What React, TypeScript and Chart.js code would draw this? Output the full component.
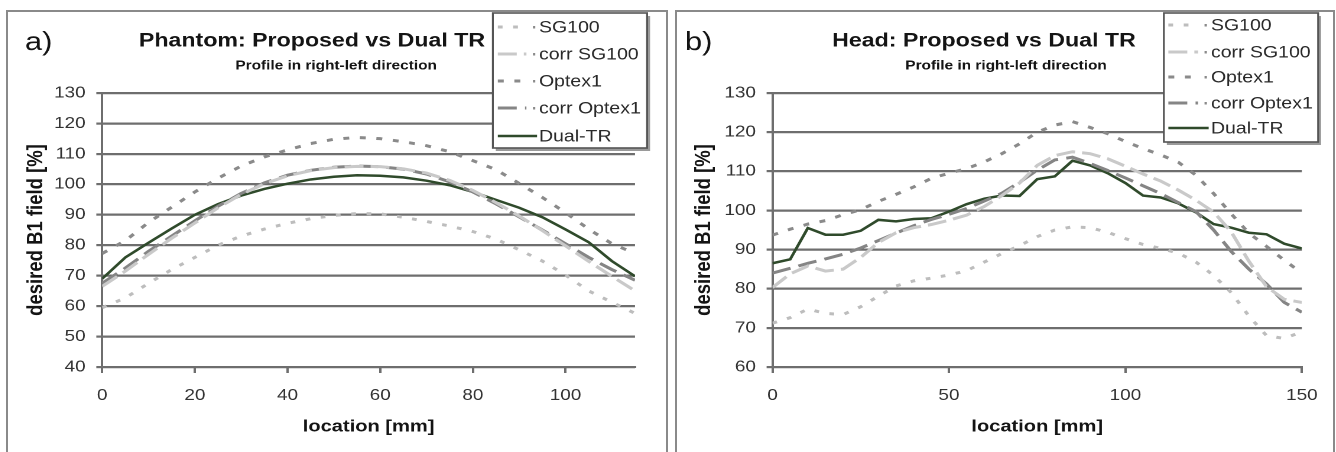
import React, { useEffect, useRef } from 'react';
import { Chart, registerables } from 'chart.js';

Chart.register(...registerables);

// ---------------- data ----------------
const seriesLabels = ['SG100', 'corr SG100', 'Optex1', 'corr Optex1', 'Dual-TR'];

const phantomLocations = [0, 5, 10, 15, 20, 25, 30, 35, 40, 45, 50, 55, 60, 65, 70, 75, 80, 85, 90, 95, 100, 105, 110, 115];
const phantomSG100 = [59.5, 62.7, 67.5, 72, 76, 80, 83, 85.3, 87.2, 88.7, 89.8, 90.4, 90.3, 89.2, 87.8, 86.3, 84.5, 82, 78.5, 74.8, 70.2, 65, 61.3, 57.6];
const phantomCorrSG100 = [66.5, 71.5, 77, 82.3, 87.3, 92.3, 96.7, 100.2, 102.8, 104.5, 105.5, 105.9, 105.8, 105.1, 103.7, 101.3, 98, 94, 89.6, 84.8, 79.8, 74.7, 69.8, 65];
const phantomOptex1 = [77.3, 81.5, 87.5, 92.5, 97.5, 102, 106, 109, 111.3, 113.4, 114.8, 115.4, 115, 114, 112.7, 110.7, 107.8, 104.8, 100.3, 95.7, 90.7, 85.3, 80.5, 77.3];
const phantomCorrOptex1 = [67.5, 72.5, 78, 83, 88, 92.8, 97, 100.5, 103, 104.6, 105.6, 106, 105.8, 105, 103.4, 100.8, 97.5, 93.6, 89.3, 85, 80.5, 76, 72, 68.5];
const phantomDualTR = [69, 76, 80.8, 85.5, 90, 93.5, 96.3, 98.5, 100.2, 101.6, 102.5, 103, 102.8, 102.3, 101.2, 99.7, 97.5, 94.9, 92.3, 89.2, 85.2, 81, 74.8, 69.8];
const phantomXTicks = [0, 20, 40, 60, 80, 100];
const phantomYTicks = [40, 50, 60, 70, 80, 90, 100, 110, 120, 130];

const headLocations = [0, 5, 10, 15, 20, 25, 30, 35, 40, 45, 50, 55, 60, 65, 70, 75, 80, 85, 90, 95, 100, 105, 110, 115, 120, 125, 130, 135, 140, 145, 150];
const headSG100 = [71.2, 72.6, 74.8, 73.7, 73.4, 75.4, 78.1, 80.7, 82, 82.7, 83.5, 84.6, 86.8, 89, 91, 93.3, 95, 95.8, 95.6, 94.4, 92.8, 91.3, 90.3, 89.1, 86.8, 83.4, 79, 73, 68, 67.3, 69];
const headCorrSG100 = [80.3, 83.8, 85.8, 84.5, 85, 88, 91.8, 94.3, 95.6, 96.4, 97.5, 98.8, 101, 103.8, 107, 111.5, 114, 115, 114.5, 113.2, 111.3, 109.3, 107.5, 105.2, 102.6, 99.6, 94.5, 87, 80.5, 77.3, 76.5];
const headOptex1 = [93.7, 95.2, 96.5, 97.4, 98.9, 100.2, 102.3, 104.1, 106, 108.2, 109.5, 110.7, 112.4, 114.5, 117, 120, 121.8, 122.7, 121.2, 119.6, 117.6, 115.8, 114.2, 112.3, 109, 104.3, 99.1, 94.2, 90.8, 87.3, 84];
const headCorrOptex1 = [84, 85.2, 86.5, 87.6, 88.8, 90.4, 92.3, 94.2, 96.1, 97.7, 99, 100.5, 102.4, 104.4, 107.2, 110.3, 112.9, 113.6, 112, 110.2, 108.3, 106.3, 104.3, 102, 99.7, 95, 89.5, 85, 81.2, 76.5, 74];
const headDualTR = [86.5, 87.5, 95.5, 93.8, 93.8, 94.8, 97.6, 97.2, 97.8, 98, 99.7, 101.6, 103, 103.8, 103.7, 108, 108.7, 112.7, 111.5, 109.5, 107, 103.8, 103.3, 101.8, 99.5, 96.5, 95.6, 94.3, 93.9, 91.5, 90.3];
const headXTicks = [0, 50, 100, 150];
const headYTicks = [60, 70, 80, 90, 100, 110, 120, 130];

// ---------------- styles / layout ----------------
const FONT = '"Liberation Sans", Arial, sans-serif';
const STRETCH = 1.18;
const PHYS_W = 656;
const LOG_W = PHYS_W / STRETCH;
const H = 440;
const GRID = '#6e6e6e';
const TEXT = '#141414';

const seriesStyles = [
  { color: '#bdbdbd', dash: [4, 9], width: 3 },
  { color: '#c9c9c9', dash: [16, 6], width: 3 },
  { color: '#8a8a8a', dash: [5, 9], width: 3 },
  { color: '#858585', dash: [16, 7], width: 3 },
  { color: '#2f4a2b', dash: [] as number[], width: 2.5 },
];

interface PanelDef {
  letter: string;
  title: string;
  subtitle: string;
  locations: number[];
  series: number[][];
  xMax: number;
  xTicks: number[];
  yTicks: number[];
  plot: { left: number; right: number; top: number; bottom: number };
  letterX: number;
  titleX: number;
  subtitleX: number;
  yTitleX: number;
  legend: { x: number; y: number; w: number; h: number; rows: number[]; sx0: number; sx1: number; tx: number };
  physLeft: number;
}

const phantomPanel: PanelDef = {
  letter: 'a)',
  title: 'Phantom: Proposed vs Dual TR',
  subtitle: 'Profile in right-left direction',
  locations: phantomLocations,
  series: [phantomSG100, phantomCorrSG100, phantomOptex1, phantomCorrOptex1, phantomDualTR],
  xMax: 115,
  xTicks: phantomXTicks,
  yTicks: phantomYTicks,
  plot: { left: 79.7, right: 531.4, top: 81, bottom: 355 },
  letterX: 14.4,
  titleX: 257.2,
  subtitleX: 277.6,
  yTitleX: 23.7,
  legend: { x: 410.2, y: 1, w: 130.5, h: 135, rows: [15, 42, 69, 96, 124], sx0: 414.4, sx1: 446.6, tx: 449.2 },
  physLeft: 8,
};

const headPanel: PanelDef = {
  letter: 'b)',
  title: 'Head: Proposed vs Dual TR',
  subtitle: 'Profile in right-left direction',
  locations: headLocations,
  series: [headSG100, headCorrSG100, headOptex1, headCorrOptex1, headDualTR],
  xMax: 150,
  xTicks: headXTicks,
  yTicks: headYTicks,
  plot: { left: 80.8, right: 533.9, top: 81, bottom: 355 },
  letterX: 6.8,
  titleX: 259.7,
  subtitleX: 278.4,
  yTitleX: 22.9,
  legend: { x: 411.9, y: 1, w: 130.5, h: 129, rows: [13, 40, 65, 91, 116], sx0: 415.7, sx1: 448.8, tx: 451.7 },
  physLeft: 677,
};

const overlayPlugin = {
  id: 'overlay',
  afterDraw(chart: any, _args: any, opts: any) {
    const p: PanelDef = opts.panel;
    if (!p) return;
    const ctx: CanvasRenderingContext2D = chart.ctx;
    const area = chart.chartArea;
    ctx.save();
    ctx.fillStyle = TEXT;
    ctx.textBaseline = 'middle';

    ctx.textAlign = 'left';
    ctx.font = `26px ${FONT}`;
    ctx.fillText(p.letter, p.letterX, 31);

    ctx.textAlign = 'center';
    ctx.font = `bold 19.6px ${FONT}`;
    ctx.fillText(p.title, p.titleX, 29);
    ctx.font = `bold 13px ${FONT}`;
    ctx.fillText(p.subtitle, p.subtitleX, 54);

    ctx.font = `bold 17px ${FONT}`;
    ctx.fillText('location [mm]', (area.left + area.right) / 2, 415);

    ctx.save();
    ctx.translate(p.yTitleX, (area.top + area.bottom) / 2);
    ctx.rotate(-Math.PI / 2);
    ctx.font = `bold 18.5px ${FONT}`;
    ctx.fillText('desired B1 field [%]', 0, 0);
    ctx.restore();

    // legend box
    const L = p.legend;
    ctx.fillStyle = '#9a9a9a';
    ctx.fillRect(L.x + 2.5, L.y + 3, L.w, L.h);
    ctx.fillStyle = '#ffffff';
    ctx.fillRect(L.x, L.y, L.w, L.h);
    ctx.strokeStyle = '#555555';
    ctx.lineWidth = 1.6;
    ctx.strokeRect(L.x, L.y, L.w, L.h);

    chart.data.datasets.forEach((ds: any, i: number) => {
      const y = L.rows[i];
      const st = seriesStyles[i];
      ctx.save();
      ctx.strokeStyle = st.color;
      ctx.lineWidth = st.width;
      ctx.setLineDash(st.dash);
      ctx.beginPath();
      if (st.dash.length) {
        ctx.moveTo(L.sx0, y);
        ctx.lineTo(L.sx1 - 8, y);
      } else {
        ctx.moveTo(L.sx0, y);
        ctx.lineTo(L.sx1 + 1, y);
      }
      ctx.stroke();
      ctx.restore();
      if (st.dash.length) {
        ctx.fillStyle = '#8a8a8a';
        ctx.fillRect(L.sx1 - 2.5, y - 1, 2, 2.5);
      }
      ctx.fillStyle = '#2a2a2a';
      ctx.textAlign = 'left';
      ctx.font = `16.5px ${FONT}`;
      ctx.fillText(ds.label, L.tx, y + 1);
    });
    ctx.restore();
  },
};

function ChartPanel({ def }: { def: PanelDef }) {
  const ref = useRef<HTMLCanvasElement>(null);
  useEffect(() => {
    const canvas = ref.current;
    if (!canvas) return;
    const datasets = def.series.map((values, i) => ({
      label: seriesLabels[i],
      data: def.locations.map((x, j) => ({ x, y: values[j] })),
      borderColor: seriesStyles[i].color,
      borderWidth: seriesStyles[i].width,
      borderDash: seriesStyles[i].dash,
      pointRadius: 0,
      fill: false,
      tension: 0,
    }));
    const tickFont = { family: FONT, size: 16 };
    const chart = new Chart(canvas, {
      type: 'line',
      data: { datasets },
      plugins: [overlayPlugin],
      options: {
        responsive: false,
        animation: false,
        devicePixelRatio: 2,
        layout: { padding: { top: def.plot.top, right: LOG_W - def.plot.right, left: 0, bottom: 0 } },
        plugins: {
          legend: { display: false },
          title: { display: false },
          tooltip: { enabled: false },
          overlay: { panel: def },
        } as any,
        scales: {
          x: {
            type: 'linear',
            min: 0,
            max: def.xMax,
            afterBuildTicks: (s: any) => {
              s.ticks = def.xTicks.map((v) => ({ value: v }));
            },
            afterFit: (s: any) => {
              s.height = H - def.plot.bottom;
            },
            grid: { display: true, drawOnChartArea: false, drawTicks: true, tickLength: 6, color: GRID, lineWidth: 2 },
            border: { display: true, color: GRID, width: 2 },
            ticks: { padding: 13, color: '#333333', font: tickFont, maxRotation: 0, autoSkip: false },
          },
          y: {
            type: 'linear',
            min: def.yTicks[0],
            max: def.yTicks[def.yTicks.length - 1],
            afterBuildTicks: (s: any) => {
              s.ticks = def.yTicks.map((v) => ({ value: v }));
            },
            afterFit: (s: any) => {
              s.width = def.plot.left;
            },
            grid: { display: true, drawOnChartArea: true, drawTicks: true, tickLength: 5, color: GRID, lineWidth: 2.2 },
            border: { display: true, color: GRID, width: 2 },
            ticks: { padding: 9, color: '#333333', font: tickFont, autoSkip: false },
          },
        },
      } as any,
    });
    return () => chart.destroy();
  }, [def]);
  return (
    <canvas
      ref={ref}
      width={LOG_W}
      height={H}
      style={{ position: 'absolute', left: def.physLeft, top: 12, width: PHYS_W + 'px', height: H + 'px' }}
    />
  );
}

export default function App() {
  return (
    <div style={{ position: 'fixed', left: 0, top: 0, width: 1336, height: 452, overflow: 'hidden', background: '#fff' }}>
      <div style={{ position: 'absolute', left: 6, top: 10, width: 662, height: 470, border: '2px solid #8a8a8a', boxSizing: 'border-box' }} />
      <div style={{ position: 'absolute', left: 675, top: 10, width: 660, height: 470, border: '2px solid #8a8a8a', boxSizing: 'border-box' }} />
      <ChartPanel def={phantomPanel} />
      <ChartPanel def={headPanel} />
    </div>
  );
}
